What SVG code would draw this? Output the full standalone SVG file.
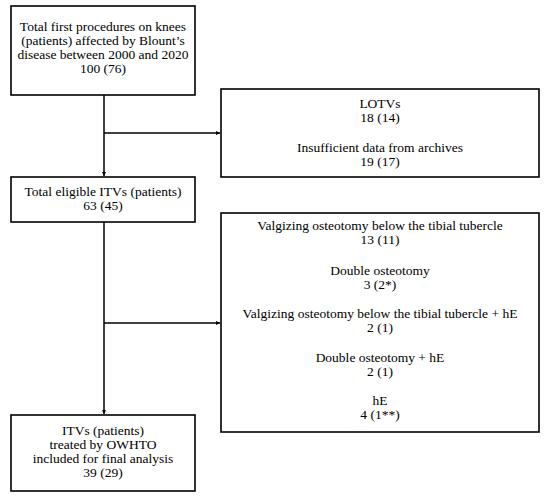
<svg xmlns="http://www.w3.org/2000/svg" width="550" height="500" viewBox="0 0 550 500">
<defs>
<style>
.box{fill:#fff;stroke:#000;stroke-width:1.6}
.t{font-family:"Liberation Serif","Times New Roman",serif;font-size:13.5px;fill:#000;text-anchor:middle}
.c{fill:none;stroke:#000;stroke-width:1.5}
</style>
<marker id="ah" viewBox="0 0 10 10" refX="10" refY="5" markerWidth="4" markerHeight="4" orient="auto" markerUnits="userSpaceOnUse">
<path d="M0,0 L10,5 L0,10 z" fill="#000"/>
</marker>
</defs>
<rect width="550" height="500" fill="#fff"/>
<g id="connectors">
<line class="c" x1="104" y1="95" x2="104" y2="176" marker-end="url(#ah)"/>
<line class="c" x1="104" y1="133" x2="220" y2="133" marker-end="url(#ah)"/>
<line class="c" x1="104" y1="222" x2="104" y2="414" marker-end="url(#ah)"/>
<line class="c" x1="104" y1="323" x2="220" y2="323" marker-end="url(#ah)"/>
</g>
<g id="n1">
<rect class="box" x="11" y="6" width="184" height="89"/>
<text class="t" x="103" y="31">Total first procedures on knees</text>
<text class="t" x="103" y="45">(patients) affected by Blount’s</text>
<text class="t" x="103" y="59">disease between 2000 and 2020</text>
<text class="t" x="103" y="73">100 (76)</text>
</g>
<g id="n2">
<rect class="box" x="221" y="89" width="318" height="88"/>
<text class="t" x="380" y="108">LOTVs</text>
<text class="t" x="380" y="122">18 (14)</text>
<text class="t" x="380" y="152">Insufficient data from archives</text>
<text class="t" x="380" y="166">19 (17)</text>
</g>
<g id="n3">
<rect class="box" x="11" y="177" width="184" height="45"/>
<text class="t" x="103" y="196">Total eligible ITVs (patients)</text>
<text class="t" x="103" y="210">63 (45)</text>
</g>
<g id="n4">
<rect class="box" x="221" y="213" width="318" height="219"/>
<text class="t" x="380" y="230">Valgizing osteotomy below the tibial tubercle</text>
<text class="t" x="380" y="244">13 (11)</text>
<text class="t" x="380" y="275">Double osteotomy</text>
<text class="t" x="380" y="289">3 (2*)</text>
<text class="t" x="380" y="318">Valgizing osteotomy below the tibial tubercle + hE</text>
<text class="t" x="380" y="332">2 (1)</text>
<text class="t" x="380" y="362">Double osteotomy + hE</text>
<text class="t" x="380" y="376">2 (1)</text>
<text class="t" x="380" y="405">hE</text>
<text class="t" x="380" y="419">4 (1**)</text>
</g>
<g id="n5">
<rect class="box" x="11" y="415" width="184" height="76"/>
<text class="t" x="103" y="435">ITVs (patients)</text>
<text class="t" x="103" y="449">treated by OWHTO</text>
<text class="t" x="103" y="463">included for final analysis</text>
<text class="t" x="103" y="477">39 (29)</text>
</g>
</svg>
